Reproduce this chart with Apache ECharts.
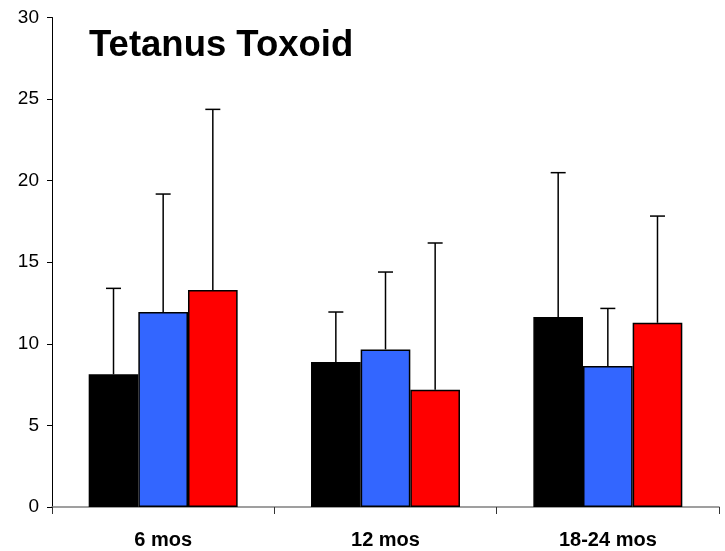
<!DOCTYPE html>
<html><head><meta charset="utf-8">
<script src="https://cdn.jsdelivr.net/npm/echarts@6/dist/echarts.min.js"></script>
<style>html,body{margin:0;padding:0;background:#fff}#c{width:725px;height:551px}</style>
</head><body><div id="c"></div>
<script>
const categories = ['6 mos', '12 mos', '18-24 mos'];
const blackMean = [8.13, 8.88, 11.64];
const blackHigh = [13.40, 11.95, 20.49];
const blueMean = [11.95, 9.66, 8.64];
const blueHigh = [19.18, 14.40, 12.17];
const redMean = [13.30, 7.19, 11.29];
const redHigh = [24.37, 16.18, 17.83];
const yTicks = [0, 5, 10, 15, 20, 25, 30];

const colors = ['#000000', '#3366FF', '#FF0000'];
const means = [blackMean, blueMean, redMean];
const highs = [blackHigh, blueHigh, redHigh];
const gapFrac = 0.33;

const chart = echarts.init(document.getElementById('c'), null, {renderer: 'canvas'});
const series = [];
means.forEach((m, i) => {
  series.push({
    type: 'bar', data: m, barGap: '0%', barCategoryGap: '33%',
    itemStyle: {color: colors[i], borderColor: '#000', borderWidth: 1.5},
    z: 2, silent: true
  });
});
means.forEach((m, i) => {
  series.push({
    type: 'custom', z: 3, silent: true,
    data: m.map((v, k) => [k, v, highs[i][k]]),
    encode: {x: 0, y: [1, 2]},
    renderItem: function (params, api) {
      const band = api.size([1, 0])[0];
      const bw = band * (1 - gapFrac) / 3;
      const p0 = api.coord([api.value(0), api.value(1)]);
      const p1 = api.coord([api.value(0), api.value(2)]);
      const x = p0[0] + (i - 1) * bw;
      const cap = 7.5;
      const st = {stroke: '#000', lineWidth: 1.5};
      return {type: 'group', children: [
        {type: 'line', shape: {x1: x, y1: p0[1], x2: x, y2: p1[1]}, style: st},
        {type: 'line', shape: {x1: x - cap, y1: p1[1], x2: x + cap, y2: p1[1]}, style: st}
      ]};
    }
  });
});

chart.setOption({
  animation: false,
  title: {
    text: 'Tetanus Toxoid', left: 84, top: 22,
    textStyle: {fontFamily: 'Liberation Sans', fontWeight: 'bold', fontSize: 36.5, color: '#000'}
  },
  grid: {left: 52, right: 6, top: 17.5, bottom: 44, containLabel: false},
  xAxis: {
    type: 'category', data: categories,
    axisLine: {lineStyle: {color: '#808080', width: 1.5}},
    axisTick: {show: true, length: 7, lineStyle: {color: '#333', width: 1}},
    axisLabel: {fontFamily: 'Liberation Sans', fontWeight: 'bold', fontSize: 20, color: '#000', margin: 23}
  },
  yAxis: {
    type: 'value', min: 0, max: 30, interval: 5,
    axisLine: {show: true, lineStyle: {color: '#000', width: 1}},
    axisTick: {show: true, inside: false, length: 5, lineStyle: {color: '#000'}},
    splitLine: {show: false},
    axisLabel: {fontFamily: 'Liberation Sans', fontSize: 19, color: '#000', margin: 13,
      formatter: v => yTicks.includes(v) ? String(v) : ''}
  },
  series: series
});
</script></body></html>
